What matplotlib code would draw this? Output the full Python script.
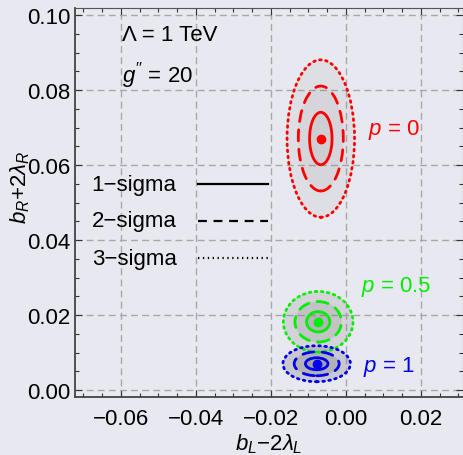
import matplotlib
matplotlib.use("Agg")
from matplotlib import pyplot as plt
from matplotlib.patches import Ellipse
from matplotlib.ticker import MultipleLocator

plt.rcParams['font.family'] = ['Liberation Sans', 'DejaVu Sans']
plt.rcParams['font.size'] = 16
plt.rcParams['mathtext.fontset'] = 'custom'
plt.rcParams['mathtext.rm'] = 'Liberation Sans'
plt.rcParams['mathtext.it'] = 'Liberation Sans:italic'

# fit results for the three values of p
p_labels = ['0', '0.5', '1']
colors = ['#ff0000', '#00ee00', '#0000ee']
center_x = [-0.0067, -0.0074, -0.0078]
center_y = [0.0671, 0.0182, 0.0070]
sigma_x = [0.0030, 0.0031, 0.0030]   # 1-sigma half widths
sigma_y = [0.0070, 0.0027, 0.0016]   # 1-sigma half heights
fill_alpha = [0.09, 0.2, 0.3]
label_x = [0.0059, 0.0039, 0.0045]
label_y = [0.0696, 0.0278, 0.0065]

n_sigma = [1, 2, 3]
sigma_names = ['1\u2212sigma', '2\u2212sigma', '3\u2212sigma']
sigma_styles = ['-', (0, (4, 3)), (0, (0.6, 1.6))]
legend_y = [0.0549, 0.0451, 0.0352]

bg = '#e8e8f0'
fig = plt.figure(figsize=(4.64, 4.56), dpi=100, facecolor=bg)
ax = fig.add_axes([0.1616, 0.1272, 0.836, 0.852])
ax.set_facecolor(bg)

for i in range(3):
    for k in range(2, -1, -1):
        n = n_sigma[k]
        w = 2 * n * sigma_x[i]
        h = 2 * n * sigma_y[i]
        ax.add_patch(Ellipse((center_x[i], center_y[i]), w, h,
                             facecolor='#808080', alpha=fill_alpha[i],
                             edgecolor='none', zorder=2))
    for k in range(3):
        n = n_sigma[k]
        ax.add_patch(Ellipse((center_x[i], center_y[i]), 2 * n * sigma_x[i],
                             2 * n * sigma_y[i], facecolor='none',
                             edgecolor=colors[i], lw=2.0, capstyle='round',
                             linestyle=sigma_styles[k], zorder=3))
    ax.plot(center_x[i], center_y[i], 'o', color=colors[i], ms=6, zorder=4)
    ax.text(label_x[i], label_y[i], '$p$ = ' + p_labels[i], color=colors[i],
            fontsize=16, va='center', ha='left')

for k in range(3):
    ax.text(-0.0678, legend_y[k], sigma_names[k], fontsize=16,
            va='center', ha='left')
    ax.plot([-0.0395, -0.0208], [legend_y[k], legend_y[k]], color='black',
            lw=1.6, linestyle=sigma_styles[k])

ax.text(-0.0597, 0.0949, '\u039b = 1 TeV', fontsize=16, va='center')
ax.text(-0.0597, 0.0843, "$g^{\\prime\\prime}$ = 20", fontsize=16, va='center')

ax.set_xlim(-0.07227, 0.0312)
ax.set_ylim(-0.00187, 0.1018)
ax.xaxis.set_major_locator(MultipleLocator(0.02))
ax.xaxis.set_minor_locator(MultipleLocator(0.005))
ax.yaxis.set_major_locator(MultipleLocator(0.02))
ax.yaxis.set_minor_locator(MultipleLocator(0.005))
ax.xaxis.set_major_formatter(lambda v, pos: ('%.2f' % v).replace('-', '\u2212'))
ax.yaxis.set_major_formatter(lambda v, pos: '%.2f' % v)
ax.tick_params(which='both', direction='in', top=True, right=True,
               color='#333333', width=0.8)
ax.tick_params(which='major', length=5, labelsize=16)
ax.tick_params(axis='x', which='major', pad=8)
ax.tick_params(axis='y', which='major', pad=3)
ax.tick_params(which='minor', length=3)
ax.grid(True, which='major', color='#a8a8a8', linestyle=(0, (5, 3)), lw=1)
ax.set_axisbelow(True)
for s in ['left', 'bottom']:
    ax.spines[s].set_color('#444444')
    ax.spines[s].set_linewidth(1.3)
for s in ['top', 'right']:
    ax.spines[s].set_color('#555555')
    ax.spines[s].set_linewidth(0.8)

ax.set_xlabel('$b_L$\u2212$2\\lambda_L$', fontsize=16)
ax.set_ylabel('$b_R$+$2\\lambda_R$', fontsize=16)
ax.xaxis.set_label_coords(0.5, -0.088)
ax.yaxis.set_label_coords(-0.112, 0.542)

plt.savefig('out.png', dpi=100, facecolor=bg)
